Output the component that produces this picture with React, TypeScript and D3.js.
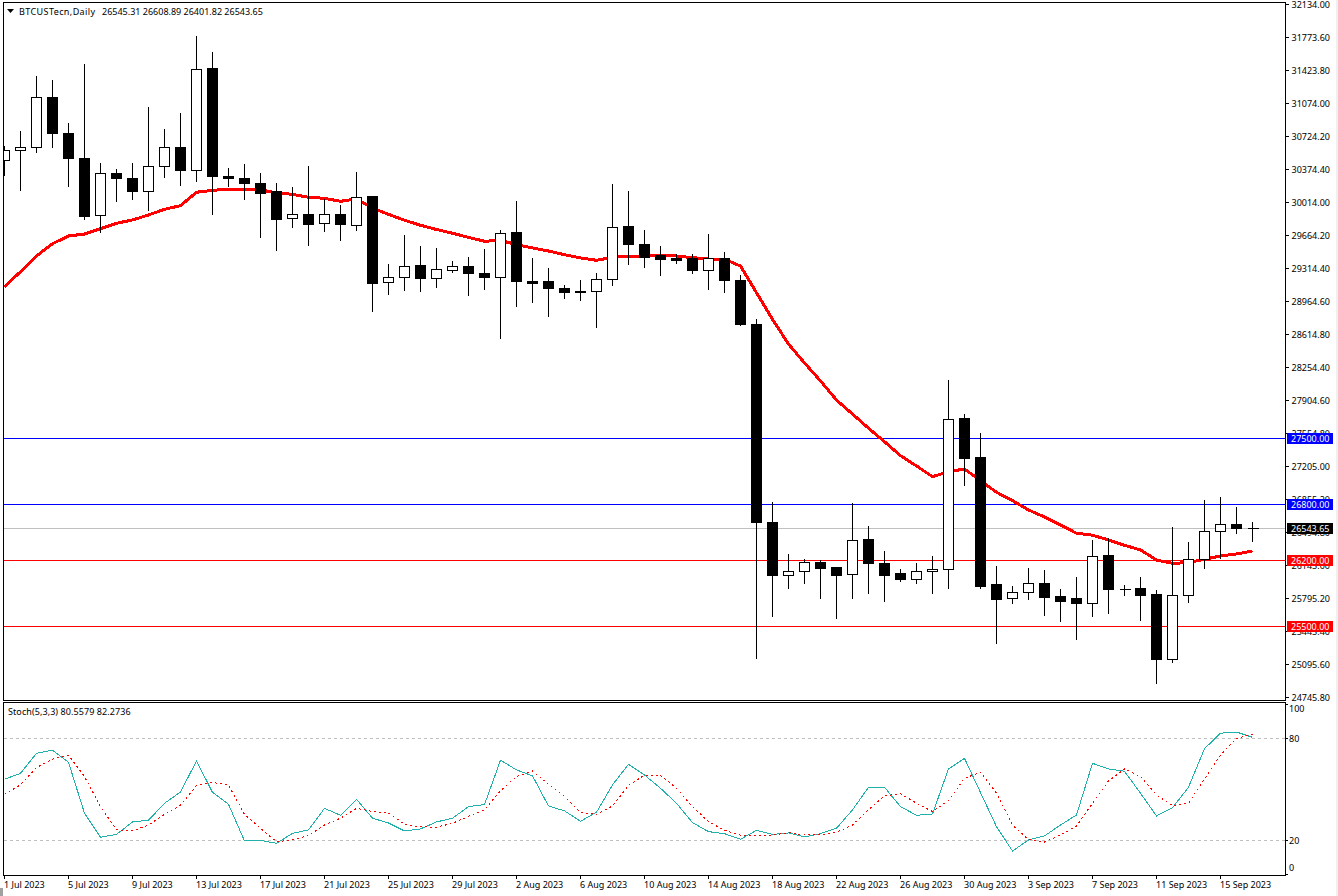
import { useEffect } from "react";
import * as d3 from "d3";

const W = 1338;
const H = 896;
const FONT = "'Noto Sans', sans-serif";

// daily candles, 1 Jul 2023 .. 17 Sep 2023
const opens = [
  30442, 30553, 30585, 31116, 30734, 30468, 29864, 30314, 30261, 30123,
  30383, 30590, 30341, 31418, 30277, 30261, 30208, 30113, 29832, 29879,
  29779, 29879, 29757, 30060, 29153, 29206, 29328, 29195, 29282, 29325,
  29253, 29208, 29678, 29168, 29168, 29094, 29062, 29059, 29187, 29742,
  29561, 29434, 29402, 29402, 29282, 29402, 29179, 28712, 26608, 26042,
  26089, 26177, 26124, 26057, 26421, 26166, 26060, 26004, 26084, 26110,
  27705, 27291, 25943, 25802, 25866, 25961, 25826, 25795, 25749, 26251,
  25893, 25901, 25837, 25155, 25834, 26216, 26513, 26587, 26545.31,
];
const highs = [
  30601, 30760, 31344, 31301, 30845, 31471, 30421, 30357, 30421, 31015,
  30781, 30951, 31768, 31598, 30367, 30410, 30314, 30208, 30166, 30389,
  30039, 29975, 30325, 30070, 29349, 29657, 29540, 29519, 29381, 29423,
  29508, 29707, 30017, 29413, 29306, 29126, 29179, 29254, 30198, 30123,
  29710, 29540, 29455, 29455, 29667, 29476, 29232, 28765, 26824, 26272,
  26219, 26205, 26134, 26810, 26569, 26304, 26113, 26177, 26251, 28118,
  27757, 27556, 26145, 25933, 26124, 26099, 25901, 26028, 26421, 26442,
  25943, 26028, 25890, 26559, 26399, 26845, 26877, 26771, 26608.89,
];
const lows = [
  30283, 30123, 30527, 30580, 30166, 29816, 29678, 30007, 30028, 29911,
  30261, 30177, 30219, 29869, 30166, 30028, 29625, 29487, 29731, 29540,
  29688, 29593, 29699, 28840, 29020, 29063, 29052, 29094, 29257, 29013,
  29073, 28557, 28896, 28938, 28790, 28981, 28960, 28673, 29119, 29342,
  29310, 29225, 29352, 29246, 29076, 29045, 28694, 25161, 25607, 25904,
  25957, 25798, 25586, 25798, 25851, 25766, 25978, 25957, 25851, 25904,
  26997, 25904, 25320, 25745, 25787, 25617, 25554, 25363, 25607, 25639,
  25830, 25561, 24896, 25116, 25752, 26116, 26216, 26484, 26401.82,
];
const closes = [
  30558, 30585, 31116, 30734, 30468, 29858, 30309, 30251, 30123, 30383,
  30585, 30346, 31413, 30272, 30251, 30198, 30102, 29826, 29874, 29763,
  29874, 29763, 30055, 29147, 29206, 29322, 29190, 29291, 29325, 29246,
  29203, 29675, 29161, 29147, 29087, 29045, 29045, 29187, 29738, 29554,
  29423, 29395, 29391, 29278, 29409, 29172, 28705, 26604, 26042, 26089,
  26184, 26113, 26042, 26417, 26169, 26042, 26000, 26089, 26110, 27701,
  27283, 25925, 25787, 25866, 25961, 25809, 25773, 25742, 26248, 25893,
  25890, 25830, 25151, 25834, 26216, 26513, 26587, 26541, 26543.65,
];
const movingAvg = [
  29108, 29267, 29434, 29564, 29646, 29667, 29724, 29781, 29816, 29869,
  29929, 29968, 30110, 30131, 30142, 30142, 30134, 30105, 30088, 30057,
  30046, 30014, 30039, 29943, 29876, 29813, 29760, 29715, 29675, 29632,
  29590, 29600, 29554, 29519, 29487, 29448, 29413, 29388, 29420, 29431,
  29434, 29434, 29434, 29416, 29402, 29399, 29328, 29044, 28762, 28500,
  28299, 28108, 27906, 27757, 27606, 27464, 27315, 27206, 27092, 27145,
  27174, 27050, 26927, 26838, 26739, 26665, 26580, 26492, 26471, 26421,
  26364, 26315, 26208, 26173, 26180, 26216, 26251, 26272, 26304,
];
const stochMain = [
  55.9, 59.4, 71.2, 73, 65.9, 35.9, 21.8, 23.5, 30.8, 31.8,
  41.8, 48.4, 66.7, 48.2, 41.2, 19.6, 20, 18.2, 24.1, 26.1,
  38.8, 34.7, 44.1, 33, 30.2, 25.5, 26.7, 30.8, 33, 39.8,
  41, 67.1, 61.4, 57.9, 40.2, 37.3, 31.2, 36.5, 52.6, 64.7,
  58.4, 50.6, 41.8, 30.4, 25.1, 23.9, 20.6, 25.9, 23.5, 24.3,
  22, 23.9, 27.1, 37.9, 51.2, 51.2, 39.8, 34.7, 35.5, 62,
  68.2, 48.1, 28, 13.7, 20.2, 22.6, 29, 34.9, 65.3, 62,
  60.6, 47.7, 34.3, 39.2, 51.2, 73.9, 83, 83.7, 80.56,
];
const stochSignal = [
  47.1, 52.6, 62.8, 67.8, 70, 57.5, 39.8, 26.3, 25.5, 29,
  35.3, 40.6, 52.2, 54.1, 52.4, 35.3, 27, 19.2, 20.2, 22.8,
  29, 33, 38.8, 37, 36.1, 29.4, 27.9, 27.7, 30, 34.1,
  37.9, 49.2, 57.5, 60.8, 53, 45.7, 36.3, 35.3, 40.2, 52.2,
  58.4, 58.2, 50.6, 39.8, 31, 25.9, 23, 23, 23, 24.5,
  23.2, 23.2, 24.7, 29, 37.9, 46.1, 47.4, 41.8, 36.9, 43.3,
  56.5, 60, 47.7, 29, 20.4, 19, 23.1, 28.4, 41.8, 54.9,
  62, 57.5, 46.7, 40.4, 41.8, 56.1, 70.2, 80, 82.27,
];

const priceLabels = [
  "32134.00", "31773.60", "31423.80", "31074.00", "30724.20", "30374.40",
  "30014.00", "29664.20", "29314.40", "28964.60", "28614.80", "28254.40",
  "27904.60", "27554.80", "27205.00", "26855.20", "26494.80", "26145.00",
  "25795.20", "25445.40", "25095.60", "24745.80",
];
const dateLabels = [
  "1 Jul 2023", "5 Jul 2023", "9 Jul 2023", "13 Jul 2023", "17 Jul 2023",
  "21 Jul 2023", "25 Jul 2023", "29 Jul 2023", "2 Aug 2023", "6 Aug 2023",
  "10 Aug 2023", "14 Aug 2023", "18 Aug 2023", "22 Aug 2023", "26 Aug 2023",
  "30 Aug 2023", "3 Sep 2023", "7 Sep 2023", "11 Sep 2023", "15 Sep 2023",
];
const blueLevels = [27500, 26800];
const redLevels = [26200, 25500];
const stochLevels = [80, 20];
const stochTicks = [100, 80, 20, 0];
const lastPrice = 26543.65;

const x = d3.scaleLinear().domain([0, 78]).range([4.5, 1252.5]);
const y = d3.scaleLinear().domain([32150, 24745]).range([0, 697.9]);
const yStoch = d3.scaleLinear().domain([0, 100]).range([874.3, 704.3]);
const yPriceTick = d3.scalePoint<string>().domain(priceLabels).range([4.5, 697.5]);

const snap = (v: number) => Math.floor(v) + 0.5;

function Tag({ value, color }: { value: number; color: string }) {
  const cy = snap(y(value));
  return (
    <g>
      <rect x={1287} y={cy - 5.5} width={46} height={11} fill={color} />
      <text x={1291} y={cy + 3.2} fill="#fff">
        {value.toFixed(2)}
      </text>
    </g>
  );
}

export default function App() {
  useEffect(() => {
    document.body.style.margin = "0";
  }, []);

  const maLine = d3
    .line<number>()
    .x((_, i) => x(i))
    .y((d) => y(d));
  const stochLine = d3
    .line<number>()
    .x((_, i) => x(i))
    .y((d) => yStoch(d));

  return (
    <svg
      width={W}
      height={H}
      style={{ display: "block", background: "#fff" }}
      fontFamily={FONT}
      fontSize={9}
    >
      <defs>
        <clipPath id="mainClip">
          <rect x={4} y={3} width={1281} height={697} />
        </clipPath>
        <clipPath id="subClip">
          <rect x={4} y={703} width={1281} height={172} />
        </clipPath>
      </defs>

      <rect x={1336} y={0} width={2} height={H} fill="#f0f0f0" />
      <rect x={0} y={888} width={3} height={8} fill="#a0a0a0" />

      {/* niveaux horizontaux */}
      <g shapeRendering="crispEdges">
        <line x1={4} x2={1285} y1={snap(y(lastPrice))} y2={snap(y(lastPrice))} stroke="#c0c0c0" />
        {blueLevels.map((d) => (
          <line key={d} x1={4} x2={1285} y1={snap(y(d))} y2={snap(y(d))} stroke="#0000ff" />
        ))}
        {redLevels.map((d) => (
          <line key={d} x1={4} x2={1285} y1={snap(y(d))} y2={snap(y(d))} stroke="#ff0000" />
        ))}
      </g>

      <g clipPath="url(#mainClip)">
        <path
          d={maLine(movingAvg) || ""}
          fill="none"
          stroke="#ff0000"
          strokeWidth={3}
          strokeLinejoin="round"
          shapeRendering="crispEdges"
        />
        {/* bougies */}
        <g shapeRendering="crispEdges">
          {opens.map((o, i) => {
            const c = closes[i];
            const cx = x(i);
            const top = snap(y(Math.max(o, c)));
            const bottom = snap(y(Math.min(o, c)));
            const bull = c >= o;
            return (
              <g key={i}>
                <line x1={cx} x2={cx} y1={y(highs[i])} y2={y(lows[i])} stroke="#000" />
                {bottom - top < 1 ? (
                  <line x1={cx - 5} x2={cx + 6} y1={top} y2={top} stroke="#000" />
                ) : (
                  <rect
                    x={cx - 5}
                    y={top}
                    width={10}
                    height={bottom - top}
                    fill={bull ? "#fff" : "#000"}
                    stroke="#000"
                  />
                )}
              </g>
            );
          })}
        </g>
      </g>

      {/* stochastique */}
      <g shapeRendering="crispEdges">
        {stochLevels.map((d) => (
          <line
            key={d}
            x1={4}
            x2={1285}
            y1={snap(yStoch(d))}
            y2={snap(yStoch(d))}
            stroke="#c0c0c0"
            strokeDasharray="3 3"
          />
        ))}
      </g>
      <g clipPath="url(#subClip)" shapeRendering="crispEdges">
        <path d={stochLine(stochMain) || ""} fill="none" stroke="#20b2aa" />
        <path d={stochLine(stochSignal) || ""} fill="none" stroke="#ff0000" strokeDasharray="2 3" />
      </g>

      {/* cadres */}
      <g shapeRendering="crispEdges" fill="none" stroke="#000">
        <path d="M3.5,875.5V702.5H1285.5V875.5H3.5" />
        <path d="M3.5,700.5V2.5H1285.5V700.5H3.5" />
        {priceLabels.map((d) => (
          <line key={d} x1={1286} x2={1289} y1={yPriceTick(d)} y2={yPriceTick(d)} />
        ))}
        {stochTicks.map((d) => (
          <line key={d} x1={1286} x2={1288} y1={snap(yStoch(d))} y2={snap(yStoch(d))} />
        ))}
        {dateLabels.map((d, i) => (
          <line key={d} x1={x(i * 4)} x2={x(i * 4)} y1={876} y2={879} />
        ))}
      </g>

      {/* libellés */}
      <path d="M7,9L14,9L10.5,13Z" fill="#000" />
      <text x={19} y={14.5} letterSpacing={0.4}>
        BTCUSTecn,Daily
      </text>
      <text x={102} y={14.5}>
        26545.31 26608.89 26401.82 26543.65
      </text>
      <text x={8} y={714.5} letterSpacing={0.08}>
        Stoch(5,3,3) 80.5579 82.2736
      </text>

      {priceLabels.map((d) => (
        <text key={d} x={1291.5} y={(yPriceTick(d) as number) + 3.3}>
          {d}
        </text>
      ))}
      {stochTicks.map((d) => (
        <text key={d} x={1289} y={Math.max(709, Math.min(868, yStoch(d))) + 3.3}>
          {d}
        </text>
      ))}
      {dateLabels.map((d, i) => (
        <text key={d} x={x(i * 4) - 0.5} y={887.5}>
          {d}
        </text>
      ))}

      <rect x={1287} y={523} width={46} height={11} fill="#000" />
      <text x={1291} y={531.7} fill="#fff">
        {lastPrice.toFixed(2)}
      </text>
      {blueLevels.map((d) => (
        <Tag key={d} value={d} color="#0000ff" />
      ))}
      {redLevels.map((d) => (
        <Tag key={d} value={d} color="#ff0000" />
      ))}
    </svg>
  );
}
